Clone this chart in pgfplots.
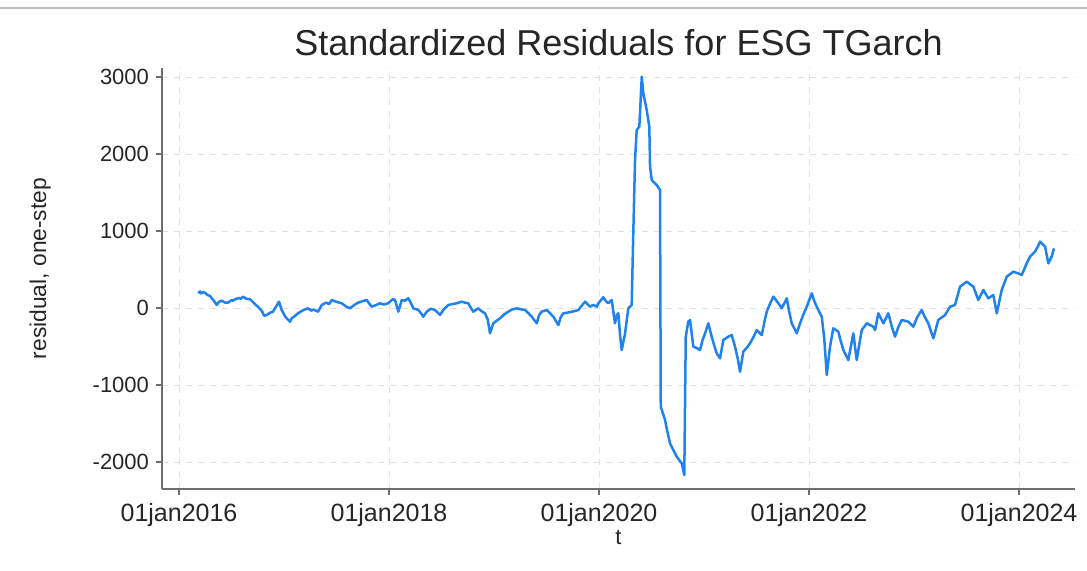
\documentclass[border=0pt]{standalone}
\usepackage{pgfplots}
\pgfplotsset{compat=1.18}
\usepackage{fontspec}
\setmainfont{Liberation Sans}
\definecolor{stblue}{HTML}{1F82F0}
\definecolor{axgray}{HTML}{6E6E6E}
\definecolor{txtgray}{HTML}{262626}
\begin{document}
\begin{tikzpicture}
\useasboundingbox (-81pt,-40.5pt) rectangle (462.5pt,244.5pt);
\draw[black!25, line width=1pt] (-81pt,240.5pt) -- (462.5pt,240.5pt);
\begin{axis}[
  scale only axis,
  width=456.5pt, height=210.5pt,
  xmin=2015.838, xmax=2024.533,
  ymin=-2351, ymax=3117,
  axis lines*=left,
  axis line style={axgray, line width=0.6pt},
  xtick={2016,2018,2020,2022,2024},
  xticklabels={01jan2016,01jan2018,01jan2020,01jan2022,01jan2024},
  ytick={-2000,-1000,0,1000,2000,3000},
  yticklabels={-2000,-1000,0,1000,2000,3000},
  tick align=outside,
  major tick length=3pt,
  tick style={axgray, line width=0.6pt},
  grid=major,
  grid style={black!12, dashed, line width=0.4pt},
  tick label style={text=txtgray},
  yticklabel style={font=\fontsize{11}{13}\selectfont},
  xticklabel style={font=\fontsize{12.5}{14}\selectfont, yshift=-0.5pt},
  /pgf/number format/assume math mode=true,
  title={Standardized Residuals for ESG TGarch},
  title style={anchor=base, yshift=0.5pt, font=\fontsize{18}{21}\selectfont, text=txtgray},
  xlabel={t},
  xlabel style={font=\fontsize{11}{12}\selectfont, text=txtgray, yshift=5pt},
  ylabel={residual, one-step},
  ylabel style={font=\fontsize{11.4}{13}\selectfont, text=txtgray, yshift=14pt, xshift=5pt},
  clip=true,
]
\addplot[stblue, line width=1.25pt, line join=round] coordinates {
(2016.184,191) (2016.200,215) (2016.210,190) (2016.230,205) (2016.248,199) (2016.270,170) (2016.295,156) (2016.315,120) (2016.330,98) (2016.359,39)
(2016.380,80) (2016.407,95) (2016.440,70) (2016.467,69) (2016.500,102) (2016.515,95) (2016.533,113) (2016.570,130) (2016.590,120) (2016.610,147)
(2016.640,120) (2016.676,113) (2016.710,70) (2016.730,40) (2016.752,17) (2016.790,-40) (2016.810,-100) (2016.835,-91) (2016.870,-60) (2016.895,-48)
(2016.925,20) (2016.952,82) (2016.978,-26) (2017.010,-110) (2017.030,-140) (2017.057,-178) (2017.075,-130) (2017.090,-120) (2017.133,-69) (2017.180,-30)
(2017.229,-4) (2017.260,-35) (2017.280,-20) (2017.324,-48) (2017.359,39) (2017.400,70) (2017.430,50) (2017.454,104) (2017.500,80)
(2017.550,61) (2017.590,20) (2017.629,-4) (2017.670,40) (2017.705,69) (2017.750,90) (2017.788,104) (2017.810,60) (2017.835,17)
(2017.880,40) (2017.914,61) (2017.950,45) (2017.990,61) (2018.038,115) (2018.057,104) (2018.089,-48) (2018.121,104)
(2018.150,95) (2018.184,126) (2018.210,60) (2018.231,-4) (2018.279,-26) (2018.300,-60) (2018.327,-113) (2018.359,-48) (2018.400,-10) (2018.438,-26)
(2018.486,-91) (2018.520,-20) (2018.565,39) (2018.600,50) (2018.645,61) (2018.692,82) (2018.720,70) (2018.755,61) (2018.780,0) (2018.803,-48)
(2018.850,-4) (2018.880,-40) (2018.914,-69) (2018.940,-150) (2018.962,-329) (2018.993,-199) (2019.020,-170) (2019.057,-134) (2019.100,-80) (2019.136,-48)
(2019.170,-20) (2019.216,-4) (2019.250,-15) (2019.295,-26) (2019.330,-70) (2019.359,-113) (2019.407,-199) (2019.430,-90) (2019.454,-48) (2019.502,-26) (2019.535,-70) (2019.565,-113)
(2019.612,-221) (2019.635,-120) (2019.660,-69) (2019.700,-60) (2019.740,-48) (2019.770,-40) (2019.803,-26) (2019.835,30) (2019.867,82) (2019.914,17) (2019.945,40) (2019.978,17)
(2019.993,61) (2020.041,139) (2020.065,90) (2020.089,61) (2020.121,104) (2020.152,-199) (2020.170,-90) (2020.184,-69) (2020.200,-350) (2020.216,-546)
(2020.248,-329) (2020.265,-150) (2020.279,-4) (2020.311,39) (2020.327,1013) (2020.343,1922) (2020.359,2312) (2020.384,2355)
(2020.407,3004) (2020.422,2788) (2020.454,2572) (2020.479,2355) (2020.486,1835) (2020.502,1662) (2020.550,1597)
(2020.581,1533) (2020.588,-1282) (2020.629,-1455) (2020.650,-1600) (2020.676,-1758) (2020.710,-1850) (2020.740,-1931) (2020.788,-2018)
(2020.812,-2169) (2020.826,-372) (2020.850,-178) (2020.867,-156) (2020.898,-502) (2020.930,-520) (2020.962,-546)
(2020.985,-420) (2021.010,-329) (2021.041,-199) (2021.073,-372) (2021.100,-500) (2021.121,-589) (2021.152,-654) (2021.184,-416)
(2021.231,-372) (2021.264,-351) (2021.295,-502) (2021.320,-650) (2021.343,-828) (2021.374,-567) (2021.405,-520) (2021.438,-459)
(2021.470,-380) (2021.502,-286) (2021.550,-351) (2021.575,-180) (2021.597,-48) (2021.630,60) (2021.660,147) (2021.708,61) (2021.740,-4) (2021.788,126)
(2021.810,-40) (2021.835,-199) (2021.883,-329) (2021.914,-199) (2021.945,-90) (2021.978,17) (2022.026,191) (2022.050,90) (2022.073,17) (2022.121,-113)
(2022.145,-400) (2022.169,-870) (2022.200,-502) (2022.231,-264) (2022.279,-307) (2022.300,-420) (2022.327,-546) (2022.374,-676)
(2022.422,-329) (2022.454,-676) (2022.502,-286) (2022.550,-199) (2022.612,-243) (2022.629,-286)
(2022.660,-69) (2022.708,-199) (2022.755,-69) (2022.790,-250) (2022.819,-372) (2022.850,-250) (2022.883,-156) (2022.946,-178)
(2022.993,-243) (2023.030,-120) (2023.073,-26) (2023.100,-110) (2023.136,-199) (2023.184,-394) (2023.231,-156) (2023.295,-91)
(2023.343,17) (2023.390,39) (2023.438,277) (2023.502,342) (2023.565,277) (2023.612,104) (2023.660,234)
(2023.708,126) (2023.755,169) (2023.788,-69) (2023.835,234) (2023.883,407) (2023.946,472) (2023.990,450) (2024.026,429)
(2024.073,580) (2024.105,667) (2024.152,732) (2024.180,800) (2024.200,862) (2024.248,797) (2024.279,580) (2024.311,667)
(2024.333,775)
};
\end{axis}
\end{tikzpicture}
\end{document}
